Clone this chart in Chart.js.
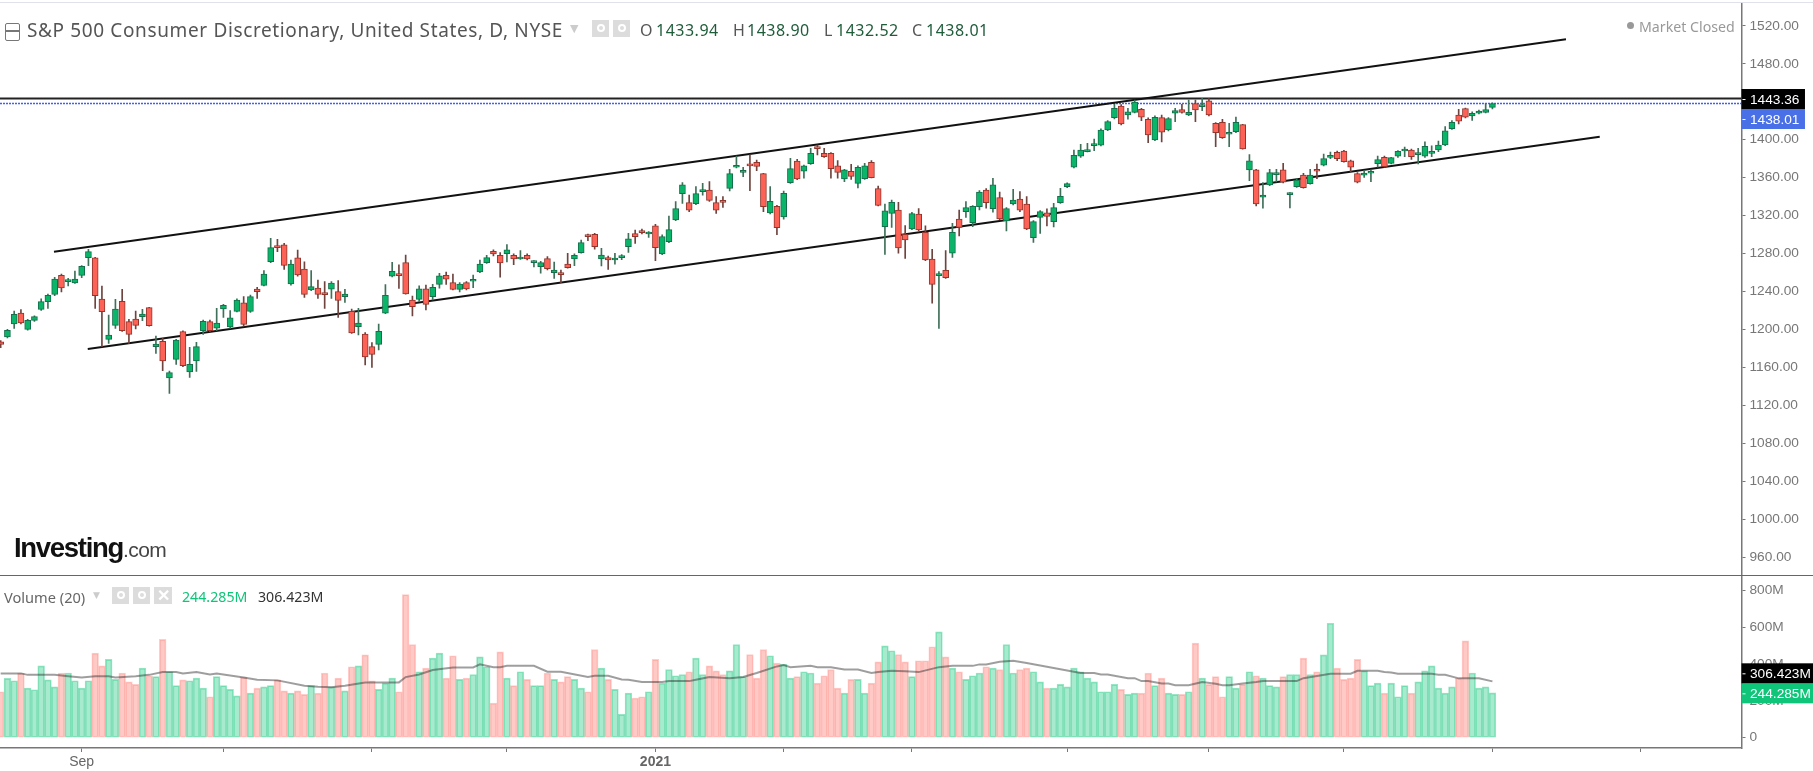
<!DOCTYPE html>
<html>
<head>
<meta charset="utf-8">
<title>S&amp;P 500 Consumer Discretionary</title>
<script src="https://cdn.jsdelivr.net/npm/chart.js@4/dist/chart.umd.min.js"></script>
<style>
	html, body { margin: 0; padding: 0; background: #fff; overflow: hidden; }
	#wrap { position: relative; width: 1813px; height: 771px; }
	canvas { position: absolute; left: 0; }
	#priceChart { top: 0; }
	#volChart { top: 575px; }
	.t { position: absolute; white-space: nowrap; line-height: 1; }
	.box { position: absolute; background: #dcdcdc; color: #fff; text-align: center; }
	.box i { display: block; width: 8px; height: 8px; margin: 4px auto; border: 2px solid #fff; border-radius: 50%; box-sizing: border-box; }
</style>
</head>
<body>
<div id="wrap">
	<canvas id="priceChart" width="1813" height="575"></canvas>
	<canvas id="volChart" width="1813" height="196"></canvas>

	<div style="position:absolute;left:0;top:2px;width:1813px;height:1px;background:#dfe2ea"></div>
	<div style="position:absolute;left:0;top:575px;width:1813px;height:1px;background:#666"></div>

	<div style="position:absolute;left:5px;top:23px;width:13px;height:16px;border:1px solid #777;border-radius:2px"></div>
	<div style="position:absolute;left:6px;top:30px;width:13px;height:2px;background:#777"></div>
	<div class="t" id="title" style="left:27px;top:17px;font:19px 'Noto Sans';color:#555;letter-spacing:0.63px">S&amp;P 500 Consumer Discretionary, United States, D, NYSE</div>
	<div class="t" style="left:570px;top:22px;font:11px 'DejaVu Sans';color:#ccc">▼</div>
	<div class="box" style="left:592px;top:20px;width:17px;height:17px"><i></i></div>
	<div class="box" style="left:613px;top:20px;width:17px;height:17px"><i></i></div>

	<div class="t" style="left:640px;top:19px;font:16px 'Noto Sans';color:#555">O</div>
	<div class="t" style="left:656px;top:19px;font:16px 'Noto Sans';color:#1f5c3a;letter-spacing:0.5px">1433.94</div>
	<div class="t" style="left:733px;top:19px;font:16px 'Noto Sans';color:#555">H</div>
	<div class="t" style="left:747px;top:19px;font:16px 'Noto Sans';color:#1f5c3a;letter-spacing:0.5px">1438.90</div>
	<div class="t" style="left:824px;top:19px;font:16px 'Noto Sans';color:#555">L</div>
	<div class="t" style="left:836px;top:19px;font:16px 'Noto Sans';color:#1f5c3a;letter-spacing:0.5px">1432.52</div>
	<div class="t" style="left:912px;top:19px;font:16px 'Noto Sans';color:#555">C</div>
	<div class="t" style="left:926px;top:19px;font:16px 'Noto Sans';color:#1f5c3a;letter-spacing:0.5px">1438.01</div>

	<div style="position:absolute;left:1627px;top:22px;width:7px;height:7px;border-radius:50%;background:#999"></div>
	<div class="t" style="left:1639px;top:17px;font:14.2px 'Noto Sans';color:#999">Market Closed</div>

	<div class="t" style="left:14px;top:532px;font:bold 27.5px 'Liberation Sans';color:#111;letter-spacing:-1.3px">Investing<span style="font-weight:normal;font-size:21px;color:#444;letter-spacing:-0.6px">.com</span></div>

	<div class="t" style="left:4px;top:587px;font:14.6px 'Noto Sans';color:#666">Volume (20)</div>
	<div class="t" style="left:93px;top:590px;font:9px 'DejaVu Sans';color:#ccc">▼</div>
	<div class="box" style="left:112px;top:587px;width:17px;height:17px"><i></i></div>
	<div class="box" style="left:133px;top:587px;width:17px;height:17px"><i></i></div>
	<div class="box" style="left:154px;top:587px;width:18px;height:17px;font:bold 16px/17px 'Liberation Sans'">✕</div>
	<div class="t" style="left:182px;top:587px;font:14.2px 'Noto Sans';color:#0fc57a">244.285M</div>
	<div class="t" style="left:258px;top:587px;font:14.2px 'Noto Sans';color:#333">306.423M</div>
</div>

<script>
// Candles, one value per trading day
var open = [
	1187.1,1192.1,1205.8,1217.3,1200.1,1209.6,1221.2,1229.3,1237,1257,
	1250.4,1249,1257,1275.6,1275.6,1232.1,1189.6,1204.4,1229.6,1208.2,
	1211,1213.5,1223,1181.9,1187.5,1148.9,1168.5,1197.7,1155.2,1166.8,
	1198.7,1208.2,1201.5,1221.6,1202.6,1219.1,1228.2,1219.1,1242.6,1246.5,
	1271.4,1287.6,1289.3,1247.9,1275.6,1263.7,1241.6,1243.7,1237.7,1242.6,
	1239.8,1234.6,1219.1,1202.9,1195.2,1181.9,1184.3,1217.3,1256.3,1257.7,
	1270.4,1231.1,1231.8,1242.7,1234.6,1247.6,1257.1,1249.4,1242.3,1249.4,
	1250.8,1260.6,1270.4,1282.4,1278.2,1279.9,1278.2,1274.3,1278.2,1270.4,
	1266.2,1274.6,1259.9,1258.8,1269,1274.3,1281,1298.5,1300.3,1274.3,
	1275.7,1273.2,1275.7,1287.3,1301,1303.8,1300.6,1309.1,1279.6,1292.5,
	1315.4,1343.1,1333.6,1332.6,1345.2,1347,1333.6,1335.4,1348.7,1370.9,
	1365.6,1373,1376.1,1364.2,1322.8,1329.8,1318.5,1354.7,1377.5,1366.7,
	1374.7,1391.9,1385.6,1385.6,1372.3,1358.6,1366.7,1354,1358.9,1376.1,
	1348.4,1308.4,1322.4,1325.9,1300.3,1305.9,1321.7,1302.4,1274.3,1256.7,
	1262.3,1280.3,1316.4,1324.2,1312.6,1329.4,1347,1327.3,1338.9,1314.3,
	1332.2,1337.5,1332.2,1296.8,1318.2,1322.8,1313.6,1333.6,1350.5,1370.9,
	1382.5,1387.4,1393.7,1394.1,1410.2,1423.2,1435.5,1426,1428.8,1432,
	1421.5,1399.7,1423.2,1410.2,1427.8,1431.6,1426,1438,1434.8,1440.8,
	1417.2,1418.3,1405.7,1408.5,1415.8,1368.1,1368.1,1339.3,1352.3,1363.2,
	1368.1,1342.1,1350.5,1362.8,1353.7,1368.4,1373,1381.4,1386.7,1388.1,
	1377.6,1364.2,1362.5,1364.6,1374.7,1381.4,1375.1,1382.5,1388.1,1389.1,
	1384.2,1382.5,1385.6,1389.1,1394.4,1411.6,1426,1432.7,1425,1427.8,
	1428.8,1433.94
];
var high = [
	1188.2,1200.1,1219.5,1220.9,1210.7,1214.5,1232.4,1237.4,1254.9,1258.4,
	1253.9,1261.6,1267.2,1284.4,1276,1245.8,1215.2,1231.7,1242.3,1210.7,
	1219.5,1221.2,1223.3,1193.1,1190.6,1156.2,1189.6,1198.7,1181.2,1186.4,
	1210,1210,1222.3,1226.5,1219.8,1232.4,1234.6,1236.3,1244.4,1262,
	1296,1295,1290.7,1273.2,1283.7,1271.4,1262,1252.1,1250.4,1250.4,
	1251.4,1242.3,1221.6,1222.3,1196.6,1186.1,1205.8,1247.2,1270.7,1268,
	1278.5,1235.3,1246.1,1246.9,1247.6,1259.2,1260.6,1258.5,1249.4,1250.4,
	1257.4,1273.2,1278.2,1283.8,1281,1289.4,1279.6,1283.1,1279.6,1272.5,
	1271.8,1276.7,1271.1,1262.7,1280.3,1279.6,1294.3,1300.6,1301.3,1285.5,
	1277.4,1280.3,1278.9,1301.3,1304.8,1305.9,1303.1,1310.8,1299.6,1319.6,
	1334.7,1354.7,1341.7,1350.5,1354,1355.8,1340,1340,1368.8,1382.8,
	1370.9,1383.9,1378.6,1364.5,1350.5,1330.8,1345.9,1380.3,1379.3,1373.3,
	1390.9,1394.4,1390.9,1386.3,1377.9,1368.8,1374,1372.3,1375.1,1377.9,
	1351.2,1332.2,1336.4,1334,1309.4,1323.5,1327.3,1309.1,1284.5,1260.9,
	1283.1,1311.9,1325.9,1334.7,1330.5,1346.3,1348.4,1359.3,1344.9,1328.4,
	1347.7,1345.2,1340,1314.7,1325.2,1327,1332.9,1348.7,1354.4,1389.1,
	1395.1,1396.2,1400.7,1411.3,1420.1,1437.3,1436.9,1433,1441.8,1433,
	1422.9,1425,1426,1423.2,1433,1437.3,1441.8,1441.8,1443.6,1443.2,
	1417.9,1421.5,1417.2,1423.9,1416.2,1384.2,1368.8,1354.7,1368.8,1368.8,
	1375.1,1344.2,1358.9,1364.6,1368.8,1374.4,1384.9,1387,1388.1,1388.8,
	1378.6,1365.3,1367.4,1368.1,1382.8,1382.8,1381.4,1388.4,1392.3,1390.2,
	1390.9,1397.6,1393.4,1398.6,1413.7,1420.1,1432,1433.4,1429.2,1431.3,
	1438.3,1438.90
];
var low = [
	1180.8,1191,1201.2,1205.8,1199.4,1208.6,1220.2,1222.3,1235.6,1239.5,
	1245.8,1248.6,1254.6,1267.2,1222.3,1181.9,1185.4,1201.2,1198,1185.4,
	1200.5,1209.3,1203.6,1174.8,1156.6,1132.7,1163.3,1160.8,1149.6,1155.9,
	1194.9,1197.7,1198.7,1212.8,1201.2,1218.4,1203.6,1218,1232.8,1245.8,
	1270.4,1282,1263.4,1246.8,1256.3,1233.8,1240.9,1232.8,1222.3,1232.8,
	1212.8,1228.6,1195.9,1194.2,1162.6,1160.1,1178.4,1216.6,1255.3,1243.3,
	1237.1,1214.2,1229.3,1220.5,1231.1,1243.4,1247.6,1241.6,1239.5,1241.6,
	1244.1,1259.9,1269.7,1277.4,1255,1271.1,1268.3,1273.9,1273.2,1265.9,
	1259.2,1262.7,1253.9,1249.4,1264.5,1267.3,1280.3,1293.6,1284.5,1266.9,
	1263.4,1268.7,1273.6,1281.3,1290.8,1300.6,1297.1,1272.5,1278.9,1291.5,
	1314.7,1332.9,1324.2,1331.5,1341.4,1335,1322.4,1328.7,1345.9,1370.2,
	1361,1346.3,1367.4,1324.2,1321.7,1299.9,1316.1,1354,1357.9,1359.3,
	1374,1383.9,1381.4,1359.3,1359.3,1355.8,1358.2,1349.1,1358.2,1359.6,
	1330.1,1279.2,1307.6,1280.3,1275,1305.2,1304.1,1272.5,1227.6,1201.2,
	1253.9,1276,1298.5,1318.2,1308.4,1325.9,1327.7,1323.5,1315.4,1303.8,
	1331.2,1324.2,1305.2,1291.8,1301.3,1309.1,1308,1332.9,1349.4,1370.2,
	1381.4,1387,1388.4,1393.4,1409.5,1421.8,1415.5,1421.5,1428.1,1420.1,
	1396.9,1399,1397.6,1409.2,1419,1427.8,1425.3,1419,1430.6,1425,
	1392.7,1401.4,1392.7,1407.4,1389.9,1356.8,1330.1,1327.7,1351.6,1355.4,
	1354.4,1328,1349.8,1348.8,1353,1358.9,1372.3,1380,1377.9,1376.2,
	1366.3,1354.4,1360.3,1355.8,1370.9,1370.9,1374.4,1381.4,1382.1,1379.3,
	1374.4,1381.4,1382.1,1387.4,1393.7,1410.9,1416.5,1422.9,1420.4,1427.1,
	1428.1,1432.52
];
var close = [
	1184.3,1199.1,1215.9,1206.8,1209.6,1213.5,1229.3,1236,1253.2,1243.7,
	1251.4,1253.2,1266.5,1282,1235.6,1218.7,1194.2,1221.6,1198.7,1194.9,
	1204.4,1216.3,1204,1184.7,1166.8,1154.5,1188.9,1161.9,1163.3,1181.9,
	1208.6,1198.7,1206.8,1225.4,1212.4,1231,1205.4,1234.6,1239.8,1258.4,
	1286.2,1286.2,1267.6,1269,1257.4,1237,1245.1,1237,1236.7,1249,
	1230.7,1237.4,1196.3,1206.8,1171,1173.8,1198,1236,1261.2,1256.7,
	1237.4,1224,1242.7,1226.5,1244.4,1256.4,1252.9,1242.3,1247.9,1242.7,
	1252.2,1269,1275.7,1279.6,1270.1,1283.8,1274.3,1275.3,1274.3,1271.8,
	1270.4,1264.1,1262.7,1257.8,1265.2,1278.2,1291.5,1297.8,1287.3,1278.5,
	1273.2,1274.6,1276.4,1295.4,1297.8,1302,1301.7,1286.2,1297.8,1305.2,
	1327.3,1352.3,1325.6,1343.1,1346.3,1336.1,1325.6,1334,1364.2,1372.3,
	1367,1372.3,1371.9,1329.4,1335,1307.3,1343.5,1369.5,1358.6,1372.3,
	1385.6,1390.5,1382.1,1369.5,1365.6,1368.1,1361.4,1370.9,1372.3,1360,
	1330.8,1324.9,1334,1285.9,1294.3,1322,1304.8,1273.2,1247.6,1257.8,
	1254.6,1302.4,1307.6,1328.4,1329.8,1344.9,1333.6,1352.3,1316.4,1327.3,
	1336.4,1325.6,1305.9,1313.6,1324.2,1319.2,1328.4,1340.3,1353.7,1383.5,
	1389.1,1388.4,1395.1,1410.2,1419,1433,1416.5,1429.2,1439.7,1423.6,
	1405,1423.6,1407.8,1422.2,1430.6,1428.8,1428.8,1431.3,1435.9,1426,
	1407.4,1402.1,1407.4,1418.3,1390.2,1377.6,1332.3,1341.7,1365.3,1365.3,
	1355.1,1343.8,1357.5,1349.5,1362.8,1366.7,1380,1383.5,1380,1376.9,
	1370.9,1355.1,1364.9,1365.6,1379,1371.6,1381.1,1387.7,1389.5,1382.1,
	1385.3,1393,1386.7,1394.4,1409.2,1418.3,1419.4,1423.6,1427.8,1430.2,
	1431.6,1438.01
];

// Volume in millions
var volume = [
	250,323,310,352,270,261,391,315,277,352,
	352,310,270,310,460,391,426,317,352,304,
	290,379,337,332,535,359,283,315,310,324,
	270,223,332,283,263,228,330,243,270,277,
	283,315,255,243,255,236,283,243,352,277,
	324,255,386,391,451,310,263,297,324,250,
	779,507,359,379,433,460,324,446,317,324,
	344,440,386,188,467,324,283,359,317,283,
	283,352,317,304,332,317,270,250,480,379,
	317,263,127,243,216,223,250,426,297,371,
	337,344,359,433,344,391,364,344,364,507,
	332,453,324,480,446,406,399,324,332,359,
	352,297,337,371,270,243,317,317,243,297,
	413,500,473,453,413,332,419,419,495,576,
	440,379,359,317,337,352,386,379,371,507,
	352,371,379,359,304,270,270,290,277,379,
	359,324,304,250,250,290,263,236,243,243,
	352,283,324,243,236,236,250,515,324,290,
	332,223,332,270,290,359,337,324,283,277,
	332,344,344,433,344,359,451,623,379,317,
	324,426,364,283,297,243,297,223,283,243,
	304,364,391,270,243,277,324,527,352,270,
	277,244.285
];

// Volume MA at these bars
var maBars = [0,3,4,8,10,12,14,16,17,20,22,24,26,27,29,31,32,36,38,41,45,47,49,51,54,59,60,62,64,67,70,71,73,74,75,79,81,83,87,88,90,92,93,95,98,99,102,103,105,108,110,112,115,116,117,120,121,123,125,127,129,130,132,134,136,139,141,144,145,146,148,150,152,153,159,160,162,163,164,167,168,169,170,172,173,174,176,178,180,181,182,184,186,187,192,193,197,200,201,204,205,206,207,212,213,214,216,219,221];
var maValues = [350,350,342,342,335,328,335,335,328,335,342,357,357,350,357,344,350,328,315,312,283,277,274,283,301,301,330,344,368,382,382,399,384,384,391,391,359,359,330,337,337,317,315,303,303,308,308,315,330,324,330,352,388,395,384,391,384,384,371,371,352,357,364,362,357,384,391,391,399,399,413,419,406,400,359,352,352,344,344,324,324,308,308,295,295,286,286,303,294,286,286,295,303,308,308,324,348,348,364,364,357,355,348,348,342,342,323,323,306.423];

// Axis ticks
var priceTicks = [1520,1480,1440,1400,1360,1320,1280,1240,1200,1160,1120,1080,1040,1000,960];
var volTicks = [0,200,400,600,800];
var dateTickBars = [12,33,55,75,97,116,135,158,179,199,221,243];
var dateTickLabels = ['Sep','','','','2021','','','','','','',''];

// Drawn lines: [bar, price]
var upperChannel = [[7.9,1282],[231.9,1505.8]];
var lowerChannel = [[12.9,1179.4],[236.9,1403.1]];
var resistance = 1443.36;
var lastClose = 1438.01;
var lastVolume = 244.285;
var lastMa = 306.423;

var UP = 'rgb(10,180,105)', UP_EDGE = '#14704a', UP_WICK = '#3f7059';
var DOWN = 'rgb(252,98,86)', DOWN_EDGE = '#94352c', DOWN_WICK = '#70443e';
var FONT = "'Liberation Sans', Arial, sans-serif";

var bars = close.map(function(c, i) { return i; });
var isUp = bars.map(function(i) { return close[i] >= open[i]; });

function pairs(list) {
	return list.map(function(p) { return { x: p[0], y: p[1] }; });
}

// Value tag on the right axis, dy moves it off a neighbouring tag
function badge(chart, scaleId, value, text, color, dy) {
	var ctx = chart.ctx, s = chart.scales[scaleId];
	var y = s.getPixelForValue(value) + dy;
	ctx.save();
	ctx.font = '13.7px ' + FONT;
	ctx.fillStyle = color;
	ctx.fillRect(s.left, y - 10, Math.min(chart.width - s.left, ctx.measureText(text).width + 14), 20);
	ctx.fillStyle = '#fff';
	ctx.fillRect(s.left + 1, y, 3, 1);
	ctx.textBaseline = 'middle';
	ctx.fillText(text, s.left + 8.5, y + 1);
	ctx.restore();
}

var axisColor = '#777';

function yAxis(min, max, ticks, fmt) {
	return {
		position: 'right',
		min: min,
		max: max,
		afterFit: function(axis) {
			axis.width = 71.5;
			axis.paddingTop = 0;
			axis.paddingBottom = 0;
		},
		afterBuildTicks: function(axis) {
			axis.ticks = ticks.map(function(v) { return { value: v }; });
		},
		border: { color: axisColor, width: 1.5 },
		grid: { drawOnChartArea: false, color: axisColor, tickLength: 4 },
		ticks: {
			color: '#777',
			padding: 4,
			font: { family: FONT, size: 13.7 },
			callback: fmt
		}
	};
}

new Chart(document.getElementById('priceChart').getContext('2d'), {
	type: 'bar',
	data: {
		datasets: [{
			data: bars.map(function(i) {
				return { x: i, y: [open[i], close[i]] };
			}),
			backgroundColor: isUp.map(function(u) { return u ? UP : DOWN; }),
			borderColor: isUp.map(function(u) { return u ? UP_EDGE : DOWN_EDGE; }),
			borderWidth: 1,
			borderSkipped: false,
			barThickness: 6,
			minBarLength: 2
		}, {
			data: bars.map(function(i) {
				return { x: i, y: [low[i], high[i]] };
			}),
			backgroundColor: isUp.map(function(u) { return u ? UP_WICK : DOWN_WICK; }),
			barThickness: 1
		}, {
			type: 'line',
			data: pairs(upperChannel),
			borderColor: '#111',
			borderWidth: 2,
			pointRadius: 0
		}, {
			type: 'line',
			data: pairs(lowerChannel),
			borderColor: '#111',
			borderWidth: 2,
			pointRadius: 0
		}, {
			type: 'line',
			data: pairs([[-0.1, resistance], [257.9, resistance]]),
			borderColor: '#222',
			borderWidth: 2,
			pointRadius: 0
		}, {
			type: 'line',
			data: pairs([[-0.1, lastClose], [257.9, lastClose]]),
			borderColor: '#3f62ee',
			borderWidth: 1.5,
			borderDash: [2, 1],
			pointRadius: 0
		}]
	},
	options: {
		responsive: false,
		animation: false,
		layout: { padding: { top: 3 } },
		datasets: { bar: { grouped: false } },
		plugins: { legend: { display: false }, tooltip: { enabled: false } },
		scales: {
			x: { type: 'linear', display: false, min: -0.1, max: 257.9, offset: false, grid: { offset: false } },
			y: yAxis(941.3, 1544, priceTicks, function(v) { return v.toFixed(2); })
		}
	},
	plugins: [{
		id: 'priceTags',
		afterDraw: function(chart) {
			badge(chart, 'y', resistance, resistance.toFixed(2), '#000', 0.5);
			badge(chart, 'y', resistance, lastClose.toFixed(2), '#4a70e8', 20.5);
		}
	}]
});

new Chart(document.getElementById('volChart').getContext('2d'), {
	type: 'bar',
	data: {
		datasets: [{
			type: 'line',
			data: maBars.map(function(b, k) { return { x: b, y: maValues[k] }; }),
			borderColor: 'rgba(40,40,40,0.45)',
			borderWidth: 2,
			pointRadius: 0
		}, {
			data: bars.map(function(i) { return { x: i, y: volume[i] }; }),
			backgroundColor: isUp.map(function(u) {
				return u ? 'rgba(11,196,120,0.36)' : 'rgba(255,80,70,0.31)';
			}),
			borderColor: isUp.map(function(u) {
				return u ? 'rgba(11,196,120,0.42)' : 'rgba(255,80,70,0.28)';
			}),
			borderWidth: 1,
			borderSkipped: false,
			barThickness: 6.75
		}]
	},
	options: {
		responsive: false,
		animation: false,
		plugins: { legend: { display: false }, tooltip: { enabled: false } },
		scales: {
			x: {
				type: 'linear',
				min: -0.1,
				max: 257.9,
				offset: false,
				afterFit: function(axis) {
					axis.height = 23;
					axis.paddingLeft = 0;
					axis.paddingRight = 0;
				},
				afterBuildTicks: function(axis) {
					axis.ticks = dateTickBars.map(function(v) { return { value: v }; });
				},
				border: { color: axisColor, width: 1.5 },
				grid: { drawOnChartArea: false, offset: false, color: axisColor, tickLength: 4 },
				ticks: {
					autoSkip: false,
					maxRotation: 0,
					padding: 2,
					color: '#666',
					font: function(c) {
						return { family: FONT, size: 14, weight: c.tick && c.tick.value === 97 ? 'bold' : 'normal' };
					},
					callback: function(v) {
						return dateTickLabels[dateTickBars.indexOf(v)];
					}
				}
			},
			y: yAxis(-56, 885.4, volTicks, function(v) { return v ? v + 'M' : '0'; })
		}
	},
	plugins: [{
		id: 'volTags',
		afterDraw: function(chart) {
			badge(chart, 'y', lastVolume, lastVolume.toFixed(3) + 'M', '#0fc57a', 0.5);
			badge(chart, 'y', lastVolume, lastMa.toFixed(3) + 'M', '#000', -19.5);
		}
	}]
});
</script>
</body>
</html>
